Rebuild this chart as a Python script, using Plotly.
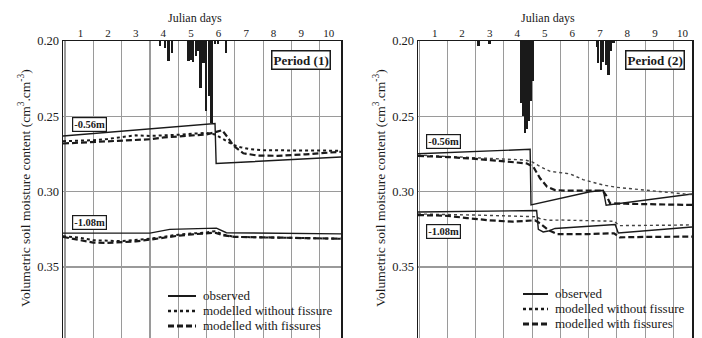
import plotly.graph_objects as go

# ---------------- data ----------------
DAY_LABELS = [str(i) for i in range(1, 11)]
DAY_TICKS = [0.55, 1.52, 2.5, 3.47, 4.45, 5.42, 6.4, 7.37, 8.35, 9.32]
MOIST_TICKS = [0.20, 0.25, 0.30, 0.35]
MOIST_TICKTEXT = ["0.20", "0.25", "0.30", "0.35"]

# Period (1)
P1_OBS56_X = [-0.07, 5.30, 5.34, 9.75]
P1_OBS56_Y = [0.2630, 0.2547, 0.2813, 0.2770]
P1_NOF56_X = [-0.07, 0.5, 1.0, 1.5, 2.0, 2.5, 3.0, 3.5, 4.0, 4.5, 5.0, 5.3, 5.6, 5.95, 6.2, 6.55, 7.0, 8.0, 9.0, 9.75]
P1_NOF56_Y = [0.2665, 0.2662, 0.2658, 0.2650, 0.2636, 0.2626, 0.2630, 0.2628, 0.2622, 0.2615, 0.2610, 0.2620,
              0.2655, 0.2690, 0.2705, 0.2718, 0.2725, 0.2728, 0.2727, 0.2728]
P1_FIS56_X = [-0.07, 0.5, 1.0, 1.5, 2.0, 2.5, 3.0, 3.5, 4.0, 4.5, 5.0, 5.3, 5.55, 5.75, 5.95, 6.3, 6.8, 7.5, 8.0, 8.5, 9.0, 9.75]
P1_FIS56_Y = [0.2680, 0.2675, 0.2670, 0.2668, 0.2665, 0.2660, 0.2652, 0.2640, 0.2632, 0.2625, 0.2620, 0.2605,
              0.2592, 0.2640, 0.2695, 0.2745, 0.2760, 0.2762, 0.2758, 0.2752, 0.2745, 0.2735]
P1_OBS108_X = [-0.07, 3.0, 3.7, 5.35, 5.7, 9.75]
P1_OBS108_Y = [0.3275, 0.3275, 0.3250, 0.3242, 0.3272, 0.3280]
P1_NOF108_X = [-0.07, 0.5, 1.0, 2.0, 3.0, 4.0, 5.0, 5.3, 5.6, 6.0, 7.0, 8.0, 9.0, 9.75]
P1_NOF108_Y = [0.3295, 0.3305, 0.3322, 0.3328, 0.3312, 0.3285, 0.3270, 0.3262, 0.3285, 0.3300, 0.3303, 0.3305, 0.3308, 0.3312]
P1_FIS108_X = [-0.07, 0.5, 1.0, 1.5, 2.0, 2.5, 3.0, 3.5, 4.0, 4.5, 5.0, 5.3, 5.6, 6.0, 7.0, 8.0, 9.0, 9.75]
P1_FIS108_Y = [0.3300, 0.3318, 0.3338, 0.3340, 0.3336, 0.3330, 0.3318, 0.3303, 0.3292, 0.3283, 0.3276, 0.3272,
               0.3290, 0.3300, 0.3303, 0.3306, 0.3308, 0.3312]
P1_RAIN_X = [3.36, 3.53, 3.65, 3.77, 4.36, 4.44, 4.53, 4.63, 4.71, 4.79, 4.89, 4.98, 5.08, 5.18, 5.30, 5.41, 5.69]
P1_RAIN_MM = [1.7, 2.4, 6.7, 4.0, 6.7, 6.4, 7.1, 5.1, 3.4, 15.8, 7.4, 23.6, 18.5, 27.6, 1.0, 1.0, 4.0]

# Period (2)
P2_OBS56_X = [-0.04, 3.93, 3.96, 6.05, 6.52, 6.62, 9.66]
P2_OBS56_Y = [0.2748, 0.2719, 0.3088, 0.3000, 0.2990, 0.3090, 0.3015]
P2_NOF56_X = [-0.04, 1.0, 2.0, 3.0, 3.75, 4.0, 4.3, 4.64, 5.0, 5.35, 5.8, 6.05, 6.5, 7.0, 7.5, 8.2, 9.0, 9.66]
P2_NOF56_Y = [0.2757, 0.2765, 0.2772, 0.2780, 0.2790, 0.2802, 0.2835, 0.2865, 0.2872, 0.2882, 0.2920, 0.2934,
              0.2955, 0.2971, 0.2980, 0.2989, 0.3005, 0.3020]
P2_FIS56_X = [-0.04, 1.0, 2.0, 3.0, 3.8, 4.04, 4.28, 4.53, 4.81, 5.2, 6.0, 6.5, 6.65, 6.76, 7.3, 8.5, 9.66]
P2_FIS56_Y = [0.2763, 0.2770, 0.2782, 0.2798, 0.2812, 0.2834, 0.2911, 0.2967, 0.2989, 0.2993, 0.2993, 0.2992,
              0.3033, 0.3077, 0.3080, 0.3085, 0.3088]
P2_OBS108_X = [-0.04, 4.16, 4.22, 4.39, 4.57, 4.81, 6.94, 7.05, 9.66]
P2_OBS108_Y = [0.3135, 0.3125, 0.3250, 0.3267, 0.3261, 0.3244, 0.3218, 0.3274, 0.3234]
P2_NOF108_X = [-0.04, 1.0, 2.0, 3.0, 4.1, 4.3, 4.6, 5.0, 6.0, 6.9, 7.1, 8.0, 9.0, 9.66]
P2_NOF108_Y = [0.3148, 0.3150, 0.3155, 0.3160, 0.3166, 0.3180, 0.3190, 0.3188, 0.3190, 0.3196, 0.3225, 0.3225, 0.3222, 0.3220]
P2_FIS108_X = [-0.04, 1.0, 1.7, 2.5, 3.3, 4.1, 4.28, 4.57, 4.88, 6.0, 6.9, 7.1, 8.0, 9.66]
P2_FIS108_Y = [0.3155, 0.3160, 0.3175, 0.3190, 0.3199, 0.3190, 0.3210, 0.3254, 0.3281, 0.3281, 0.3276, 0.3303, 0.3300, 0.3298]
P2_RAIN_X = [2.10, 2.49, 3.60, 3.68, 3.75, 3.82, 3.89, 3.96, 4.04, 6.29, 6.34, 6.43, 6.51, 6.64, 6.70, 6.80, 6.88]
P2_RAIN_MM = [1.7, 1.0, 20.9, 25.3, 31.0, 29.6, 26.9, 20.2, 13.5, 2.0, 7.4, 9.8, 7.1, 8.1, 11.4, 3.4, 0.7]

SERIES_NAMES = ["observed", "modelled without fissure", "modelled with fissures"]
PERIODS = ["Period (1)", "Period (2)"]
DEPTHS = ["-0.56m", "-1.08m"]

# ---------------- styling ----------------
W, H = 702, 338
FONT = "Liberation Serif"
INK = "#1a1a1a"
GRID = "#9a9a9a"
TOP = 41
DOM = [(63, 341), (418, 692)]
XR = [(-0.07, 9.75), (-0.04, 9.66)]
YBOT = 0.20 + (H - TOP) / 1507.0
STYLES = [dict(color=INK, width=1.4, dash="solid"),
          dict(color=INK, width=2.0, dash="dot"),
          dict(color=INK, width=2.2, dash="6px,3px")]
PANEL_STYLES = [STYLES, [STYLES[0], dict(color="#444444", width=1.4, dash="dot"), STYLES[2]]]

fig = go.Figure()

panels = [
    dict(series=[(P1_OBS56_X, P1_OBS56_Y), (P1_NOF56_X, P1_NOF56_Y), (P1_FIS56_X, P1_FIS56_Y),
                 (P1_OBS108_X, P1_OBS108_Y), (P1_NOF108_X, P1_NOF108_Y), (P1_FIS108_X, P1_FIS108_Y)],
         rain=(P1_RAIN_X, P1_RAIN_MM)),
    dict(series=[(P2_OBS56_X, P2_OBS56_Y), (P2_NOF56_X, P2_NOF56_Y), (P2_FIS56_X, P2_FIS56_Y),
                 (P2_OBS108_X, P2_OBS108_Y), (P2_NOF108_X, P2_NOF108_Y), (P2_FIS108_X, P2_FIS108_Y)],
         rain=(P2_RAIN_X, P2_RAIN_MM)),
]

for p, panel in enumerate(panels):
    xa = "x" if p == 0 else "x2"
    ya = "y" if p == 0 else "y2"
    yr = "y3" if p == 0 else "y4"
    for i, (xs, ys) in enumerate(panel["series"]):
        fig.add_trace(go.Scatter(x=xs, y=ys, mode="lines", line=PANEL_STYLES[p][i % 3],
                                 name=SERIES_NAMES[i % 3], showlegend=False, hoverinfo="skip",
                                 xaxis=xa, yaxis=ya))
    rx, rv = panel["rain"]
    fig.add_trace(go.Bar(x=rx, y=rv, width=0.085, marker=dict(color=INK, line=dict(width=0)),
                         showlegend=False, hoverinfo="skip", xaxis=xa, yaxis=yr))

dom_top = 1 - TOP / H
common_x = dict(side="top", tickmode="array", tickvals=DAY_TICKS, ticktext=DAY_LABELS,
                showgrid=False, zeroline=False, ticks="", ticklabelstandoff=-2, automargin=False,
                tickfont=dict(family=FONT, size=11, color=INK),
                showline=True, mirror=True, linecolor=INK, linewidth=1.5,
                minor=dict(tick0=0, dtick=1, showgrid=True, gridcolor=GRID, gridwidth=1.2, ticks=""))
common_y = dict(tickmode="array", tickvals=MOIST_TICKS, ticktext=MOIST_TICKTEXT, automargin=False,
                showgrid=True, gridcolor=GRID, gridwidth=1.2, zeroline=False, ticks="",
                ticklabelstandoff=0, tickfont=dict(family=FONT, size=12.5, color=INK),
                showline=True, mirror=True, linecolor=INK, linewidth=1.5,
                range=[YBOT, 0.20], domain=[0, dom_top])

fig.update_layout(
    width=W, height=H, margin=dict(l=0, r=0, t=0, b=0, pad=0, autoexpand=False),
    paper_bgcolor="white", plot_bgcolor="white", showlegend=False, bargap=0,
    xaxis=dict(common_x, domain=[DOM[0][0] / W, DOM[0][1] / W], range=list(XR[0]), anchor="y"),
    yaxis=dict(common_y, anchor="x"),
    xaxis2=dict(common_x, domain=[DOM[1][0] / W, DOM[1][1] / W], range=list(XR[1]), anchor="y2"),
    yaxis2=dict(common_y, anchor="x2"),
    yaxis3=dict(overlaying="y", anchor="x", range=[100, 0], visible=False, automargin=False),
    yaxis4=dict(overlaying="y2", anchor="x2", range=[100, 0], visible=False, automargin=False),
)

ann = []
box_pos = [[(0.88, 0.2557), (0.88, 0.3206)], [(0.86, 0.2667), (0.86, 0.3265)]]
for p in range(2):
    xr = "x" if p == 0 else "x2"
    yref = "y" if p == 0 else "y2"
    l, r = DOM[p]
    ann.append(dict(text="Julian days", xref="paper", yref="paper", x=(l + (r - l) * 0.475) / W,
                    y=1 - 18 / H, xanchor="center", yanchor="middle", showarrow=False,
                    font=dict(family=FONT, size=12, color=INK)))
    ann.append(dict(text="Volumetric soil moisture content (cm<sup>3</sup>.cm<sup>-3</sup>)",
                    xref="paper", yref="paper", x=(l - 38) / W, y=1 - 188 / H, textangle=-90,
                    xanchor="center", yanchor="middle", showarrow=False,
                    font=dict(family=FONT, size=13.5, color=INK)))
    ann.append(dict(text="0.40", xref="paper", yref="paper", x=(l - 5) / W, y=-4.0 / H,
                    xanchor="right", yanchor="middle", showarrow=False,
                    font=dict(family=FONT, size=12.5, color=INK)))
    ann.append(dict(text="<b>%s</b>" % PERIODS[p], xref=xr, yref=yref, x=8.35, y=0.2128,
                    xanchor="center", yanchor="middle",
                    showarrow=False, bgcolor="white", bordercolor=INK, borderwidth=1.5, borderpad=1,
                    font=dict(family=FONT, size=13, color=INK)))
    for d in range(2):
        bx, by = box_pos[p][d]
        ann.append(dict(text="<b>%s</b>" % DEPTHS[d], xref=xr, yref=yref, x=bx, y=by,
                        xanchor="center", yanchor="middle",
                        showarrow=False, bgcolor="white", bordercolor=INK, borderwidth=1.2, borderpad=1,
                        font=dict(family=FONT, size=10.5, color=INK)))

shapes = []
leg = [dict(x0=168, x1=196, tx=201, rows=[296, 311, 326]),
       dict(x0=523, x1=548, tx=553, rows=[294, 309, 324])]
for lg in leg:
    for i, row in enumerate(lg["rows"]):
        st = STYLES[i]
        shapes.append(dict(type="line", xref="paper", yref="paper",
                           x0=lg["x0"] / W, x1=lg["x1"] / W, y0=1 - row / H, y1=1 - row / H,
                           line=dict(color=INK, width=st["width"] + 0.6, dash=st["dash"])))
        ann.append(dict(text=SERIES_NAMES[i], xref="paper", yref="paper", x=lg["tx"] / W,
                        y=1 - (row - 1) / H, xanchor="left", yanchor="middle", showarrow=False,
                        font=dict(family=FONT, size=13, color=INK)))

fig.update_layout(annotations=ann, shapes=shapes)
fig.write_html("out.html", config={"displayModeBar": False, "staticPlot": True},
               post_script="document.body.style.margin='0';document.body.style.overflow='hidden';")
